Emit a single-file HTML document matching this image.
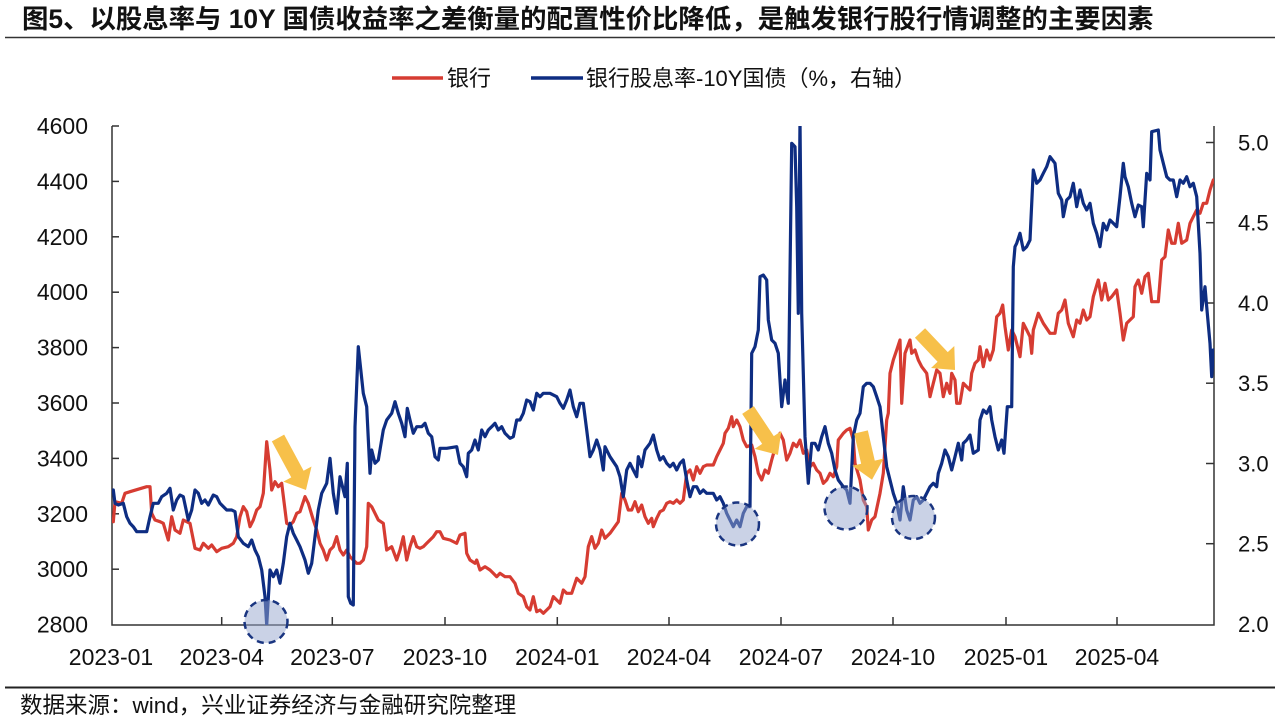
<!DOCTYPE html>
<html>
<head>
<meta charset="utf-8">
<style>
html,body{margin:0;padding:0;background:#fff;}
svg{display:block;}
.t{font-family:"Liberation Sans","Noto Sans CJK SC",sans-serif;fill:#111;}
</style>
</head>
<body>
<svg width="1280" height="722" viewBox="0 0 1280 722" xmlns="http://www.w3.org/2000/svg">
<rect width="1280" height="722" fill="#fff"/>
<!-- title -->
<text class="t" x="22" y="28" font-size="26.4" font-weight="bold">图5、以股息率与 10Y 国债收益率之差衡量的配置性价比降低，是触发银行股行情调整的主要因素</text>
<line x1="5" y1="37.5" x2="1275" y2="37.5" stroke="#333" stroke-width="1.5"/>

<!-- legend -->
<line x1="392" y1="78" x2="443" y2="78" stroke="#d63c32" stroke-width="3.5"/>
<text class="t" x="447" y="86" font-size="22">银行</text>
<line x1="531" y1="78" x2="583" y2="78" stroke="#0e2d82" stroke-width="3.5"/>
<text class="t" x="586" y="86" font-size="22">银行股息率-10Y国债（%，右轴）</text>

<!-- axes -->
<g stroke="#333" stroke-width="1.5" fill="none">
<polyline points="112,126 112,625 1214,625 1214,126"/>
<line x1="112" y1="126" x2="119" y2="126"/>
<line x1="112" y1="181.4" x2="119" y2="181.4"/>
<line x1="112" y1="236.8" x2="119" y2="236.8"/>
<line x1="112" y1="292.2" x2="119" y2="292.2"/>
<line x1="112" y1="347.6" x2="119" y2="347.6"/>
<line x1="112" y1="403" x2="119" y2="403"/>
<line x1="112" y1="458.4" x2="119" y2="458.4"/>
<line x1="112" y1="513.8" x2="119" y2="513.8"/>
<line x1="112" y1="569.2" x2="119" y2="569.2"/>
<line x1="1206" y1="142.5" x2="1214" y2="142.5"/>
<line x1="1206" y1="222.7" x2="1214" y2="222.7"/>
<line x1="1206" y1="303" x2="1214" y2="303"/>
<line x1="1206" y1="383.2" x2="1214" y2="383.2"/>
<line x1="1206" y1="463.5" x2="1214" y2="463.5"/>
<line x1="1206" y1="543.7" x2="1214" y2="543.7"/>
<line x1="221.7" y1="617" x2="221.7" y2="625"/>
<line x1="332.3" y1="617" x2="332.3" y2="625"/>
<line x1="445" y1="617" x2="445" y2="625"/>
<line x1="557.3" y1="617" x2="557.3" y2="625"/>
<line x1="669" y1="617" x2="669" y2="625"/>
<line x1="781" y1="617" x2="781" y2="625"/>
<line x1="893" y1="617" x2="893" y2="625"/>
<line x1="1006" y1="617" x2="1006" y2="625"/>
<line x1="1117" y1="617" x2="1117" y2="625"/>
</g>

<!-- left labels -->
<g class="t" font-size="23" text-anchor="end">
<text x="88" y="134">4600</text>
<text x="88" y="189.4">4400</text>
<text x="88" y="244.8">4200</text>
<text x="88" y="300.2">4000</text>
<text x="88" y="355.6">3800</text>
<text x="88" y="411">3600</text>
<text x="88" y="466.4">3400</text>
<text x="88" y="521.8">3200</text>
<text x="88" y="577.2">3000</text>
<text x="88" y="632.6">2800</text>
</g>
<!-- right labels -->
<g class="t" font-size="22">
<text x="1238" y="150.5">5.0</text>
<text x="1238" y="230.7">4.5</text>
<text x="1238" y="311">4.0</text>
<text x="1238" y="391.2">3.5</text>
<text x="1238" y="471.5">3.0</text>
<text x="1238" y="551.7">2.5</text>
<text x="1238" y="632">2.0</text>
</g>
<!-- bottom labels -->
<g class="t" font-size="23" text-anchor="middle">
<text x="111" y="665">2023-01</text>
<text x="221.7" y="665">2023-04</text>
<text x="332.3" y="665">2023-07</text>
<text x="445" y="665">2023-10</text>
<text x="557.3" y="665">2024-01</text>
<text x="669" y="665">2024-04</text>
<text x="781" y="665">2024-07</text>
<text x="893" y="665">2024-10</text>
<text x="1006" y="665">2025-01</text>
<text x="1117" y="665">2025-04</text>
</g>

<defs>
<clipPath id="pc"><rect x="112" y="126" width="1102" height="499"/></clipPath>
</defs>

<g clip-path="url(#pc)" fill="none" stroke-width="3.2" stroke-linejoin="round" stroke-linecap="round">
<polyline stroke="#d63c32" points="113.3,521.7 115,501.7 121.7,503.3 125,493.3 130,491.7 146.7,486.7 150,486.7 151.7,513.3 155,520 160,521.7 163.3,523.3 168.3,540 171.7,516.7 175,530 180,533.3 183.3,520 186.7,521.7 190,523.3 195,548.3 200,550 203.3,543.3 208.3,548.3 211.7,545 216.7,551.7 221.7,548.3 228.3,546.7 233.3,543.3 236.7,536.7 240,516.7 243.3,506.7 246.7,511.7 250,526.7 253.3,520 256.7,510 260,506.7 263.3,493.3 266.7,441.7 270,470 271.7,490 275,481.7 278.3,486.7 281.7,483.3 286.7,523.3 290,525 293.3,521.7 296.7,513.3 300,511.7 305,496.7 308.3,503.3 313.3,520 316.7,530 320,543.3 323.3,550 326.7,560 330,550 333.3,546.7 336.7,536.7 340,550 343.3,555 346.7,550 350,556.7 353.3,560 356.7,563.3 360,563.3 363.3,560 366.7,546.7 368.3,503.3 371.7,506.7 375,513.3 378.3,520 383.3,523.3 386.7,550 391.7,546.7 396.7,560 400,550 403.3,536.7 406.7,560 410,546.7 413.3,536.7 416.7,546.7 420,548.3 423.3,546.7 426.7,543.3 430,540 433.3,536.7 436.7,531.7 440,531.7 443.3,538.3 450,540 456.7,543.3 460,535 465,533.3 466.7,553.3 470,560 475,563.3 476.7,560 480,570 485,566.7 490,570 493.3,573.3 496.7,576.7 500,573.3 505,576.7 510,576.7 515,583.3 518.3,593.3 523.3,596.7 526.7,606.7 530,610 533.3,596.7 536.7,611.7 540,610 543.3,613.3 546.7,610 550,606.7 553.3,596.7 556.7,600 560,603.3 563.3,590 566.7,593.3 571.7,593.3 576.7,578.3 581.7,583.3 585,576.7 588.3,546.7 591.7,536.7 595,548.3 598.3,543.3 601.7,530 605,538.3 610,533.3 618.3,521.7 621.7,493.3 625,500 628.3,510 631.7,510 635,501.7 638.3,511.7 641.7,505 645,516.7 648.3,523.3 651.7,518.3 653.3,526.7 656.7,518.3 660,511.7 663.3,510 666.7,503.3 670,501.7 673.3,503.3 676.7,500 680,503.3 683.3,500 686.7,473.3 690,470 693.3,480 696.7,466.7 700,473.3 703.3,466.7 706.7,465 713.3,465 716.7,456.7 720,450 723.3,443.3 725,433.3 728.3,428.3 731.7,416.7 733.3,426.7 736.7,420 740,426.7 743.3,440 746.7,446.7 751.7,445 755,456.7 758.3,473.3 761.7,480 765,470 768.3,473.3 771.7,460 775,448.3 780,433.3 783.3,440 786.7,460 790,453.3 793.3,443.3 796.7,446.7 800,440 803.3,453.3 806.7,450 810,466.7 813.3,463.3 816.7,470 820,473.3 823.3,483.3 826.7,480 830,473.3 833.3,476.7 836.7,466.7 838.3,440 843.3,433.3 846.7,430 850,428.3 853.3,440 855,463.3 860,480 863.3,500 866.7,506.7 868.3,530 871.7,520 875,516.7 880,493.3 883.3,473.3 886.7,420 888.3,413.3 890,373.3 893.3,360 896.7,350 900,340 901.7,403.3 905,353.3 910,340 911.7,353.3 915,350 918.3,360 921.7,366.7 926.7,373.3 930,396.7 933.3,383.3 936.7,370 940,373.3 943.3,396.7 946.7,383.3 950,393.3 951.7,373.3 955,380 956.7,403.3 960,403.3 963.3,383.3 966.7,386.7 970,390 971.7,373.3 975,363.3 978.3,360 980,346.7 983.3,366.7 986.7,350 990,360 993.3,350 996.7,316.7 1000,313.3 1002.7,305 1005,326.7 1008.3,350 1011.7,330 1015,336.7 1020,356.7 1023.3,323.3 1026.7,330 1030,336.7 1031.7,353.3 1033.3,330 1038.3,313.3 1043.3,323.3 1050,333.3 1055,333.3 1058.3,313.3 1061.7,310 1065,300 1068.3,323.3 1073.3,336.7 1076.7,320 1080,323.3 1083.3,310 1086.7,320 1090,316.7 1093.3,296.7 1098.3,280 1101.7,300 1105,283.3 1108.3,300 1111.7,296.7 1116.7,290 1120,313.3 1123.3,340 1126.7,323.3 1130,320 1133.3,316.7 1135,286.7 1138.3,280 1141.7,293.3 1145,276.7 1148.3,273.3 1151.7,301.7 1158.3,301.7 1161.7,260 1165,256.7 1168.3,230 1171.7,243.3 1175,243.3 1178.3,223.3 1181.7,243.3 1186.7,240 1190,223.3 1193.3,216.7 1196.7,210 1200,213.3 1203.3,203.3 1206.7,203.3 1210,190 1213.3,180"/>
<polyline stroke="#0e2d82" points="113.3,490 115,503.3 118.3,505 123.3,503.3 126.7,516.7 130,523.3 133.3,526.7 136.7,531.7 146.7,531.7 150,516.7 153.3,503.3 158.3,503.3 161.7,496.7 166.7,493.3 170,488.3 173.3,510 176.7,500 180,495 183.3,496.7 188.3,520 191.7,510 195,490 198.3,493.3 201.7,503.3 205,500 208.3,505 213.3,495 216.7,496.7 220,503.3 226.7,510 231.7,510 235,511.7 238.3,536.7 243.3,543.3 248.3,546.7 251.7,540 255,550 258.3,556.7 261.7,570 265,596.7 266.7,625 270,570 273.3,576.7 276.7,570 280,583.3 283.3,563.3 286.7,536.7 290,523.3 293.3,533.3 296.7,540 300,546.7 305,560 308.3,573.3 311.7,563.3 315,536.7 318.3,510 321.7,493.3 326.7,483.3 330,458.3 333.3,493.3 336.7,513.3 340,476.7 345,496.7 347.3,463.3 348.3,596.7 350.7,603.3 353.3,605 355,426.7 358.3,346.7 363.3,393.3 366.7,406.7 370,473.3 371.7,450 375,463.3 378.3,460 383.3,430 386.7,420 391.7,413.3 395,401.7 398.3,413.3 401.7,423.3 405,436.7 407.3,408.3 410,420 413.3,433.3 416.7,426.7 421.7,426.7 425,423.3 428.3,433.3 431.7,436.7 435,456.7 438.3,460 440,448.3 446.7,448.3 456.7,446.7 460,463.3 463.3,466.7 466.7,476.7 468.3,453.3 471.7,450 475,440 478.3,450 481.7,430 485,436.7 488.3,430 491.7,426.7 495,423.3 498.3,430 501.7,426.7 505,433.3 510,438.3 513.3,436.7 516.7,420 520,420 523.3,413.3 526.7,400 530,401.7 533.3,410 536.7,393.3 540,396.7 543.3,393.3 550,393.3 556.7,396.7 560,403.3 563.3,408.3 566.7,400 570,390 573.3,406.7 576.7,416.7 580,403.3 583.3,403.3 586.7,430 590,456.7 593.3,450 596.7,440 600,450 603.3,470 605,446.7 610,456.7 616.7,466.7 620,476.7 623.3,496.7 626.7,470 630,463.3 633.3,470 636.7,476.7 638.3,456.7 641.7,466.7 645,450 650,443.3 653.3,435 656.7,450 660,460 663.3,456.7 666.7,463.3 670,466.7 673.3,463.3 676.7,470 680,463.3 683.3,460 686.7,480 690,496.7 693.3,486.7 696.7,486.7 700,493.3 703.3,490 706.7,493.3 713.3,493.3 716.7,500 720,496.7 723.3,503.3 726.7,513.3 730,520 733.3,526.7 736.7,520 740,526.7 743.3,513.3 746.7,506.7 750,506.7 751.7,353.3 755,346.7 758.3,330 760,276.7 763.3,275 766.7,280 768.3,320 771.7,340 775,343.3 778.3,353.3 781.7,406.7 785,380 788.3,403.3 791.7,143.3 795,146.7 796.7,206.7 798.3,313.3 800,120 801.7,313.3 805,436.7 808.3,483.3 811.7,443.3 815,443.3 818.3,450 821.7,436.7 825,426.7 828.3,443.3 831.7,453.3 835,470 838.3,480 843.3,486.7 846.7,490 850,503.3 853.3,436.7 856.7,420 860,413.3 863.3,386.7 866.7,383.3 870,383.3 873.3,386.7 876.7,396.7 880,406.7 883.3,436.7 886.7,466.7 890,480 893.3,493.3 896.7,503.3 900,520 903.3,486.7 906.7,510 910,520 913.3,500 916.7,496.7 920,503.3 923.3,500 926.7,493.3 930,486.7 933.3,483.3 936.7,486.7 938.3,473.3 941.7,463.3 945,450 948.3,456.7 951.7,470 955,456.7 958.3,443.3 961.7,460 963.3,443.3 966.7,440 970,435 973.3,453.3 978.3,450 980,420 983.3,410 986.7,413.3 990,406.7 991.7,420 995,436.7 998.3,450 1001.7,440 1004,453.3 1007.3,406.7 1011.7,406.7 1013.3,266.7 1015,246.7 1016.7,243.3 1020,233.3 1023.3,250 1026.7,246.7 1030,240 1033.3,170 1036.7,183.3 1040,180 1043.3,173.3 1046.7,166.7 1050,156.7 1055,163.3 1058.3,193.3 1061.7,200 1063.3,216.7 1066.7,200 1070,196.7 1073.3,183.3 1076.7,206.7 1080,190 1083.3,203.3 1086.7,210 1090,203.3 1093.3,223.3 1096.7,233.3 1100,246.7 1103.3,223.3 1106.7,230 1110,220 1113.3,223.3 1116.7,226.7 1120,196.7 1123.3,163.3 1125,176.7 1128.3,186.7 1131.7,203.3 1135,216.7 1138.3,205 1141.7,206.7 1143.3,226.7 1146.7,173.3 1150,180 1151.7,131.7 1158.3,130 1160,150 1163.3,163.3 1166.7,176.7 1170,180 1173.3,180 1176.7,196.7 1180,180 1183.3,183.3 1186.7,176.7 1190,186.7 1193.3,183.3 1196.7,196.7 1200,253.3 1201.7,310 1205,286.7 1206.7,306.7 1210,343.3 1211.7,376.7 1213.3,350"/>
</g>

<!-- dashed circles -->
<g fill="rgba(150,165,205,0.5)" stroke="#1a3580" stroke-width="2.5" stroke-dasharray="7,5">
<circle cx="266" cy="621.5" r="21.5"/>
<circle cx="737.5" cy="524" r="21.5"/>
<circle cx="846" cy="508" r="21.5"/>
<circle cx="913.5" cy="517.5" r="21.5"/>
</g>

<!-- arrows -->
<g fill="#f7c04a">
<g transform="translate(278,438) rotate(61.7)"><polygon points="0,-7 41,-7 41,-16 59,0 41,16 41,7 0,7"/></g>
<g transform="translate(748,410) rotate(56.3)"><polygon points="0,-7 36,-7 36,-16 54,0 36,16 36,7 0,7"/></g>
<g transform="translate(861,432) rotate(77)"><polygon points="0,-7 31,-7 31,-16 49,0 31,16 31,7 0,7"/></g>
<g transform="translate(920,333) rotate(46.6)"><polygon points="0,-7 33,-7 33,-16 51,0 33,16 33,7 0,7"/></g>
</g>

<!-- bottom rule and source -->
<line x1="5" y1="687.5" x2="1275" y2="687.5" stroke="#222" stroke-width="2"/>
<text class="t" x="20" y="713" font-size="22.5" fill="#222">数据来源：wind，兴业证券经济与金融研究院整理</text>
</svg>
</body>
</html>
